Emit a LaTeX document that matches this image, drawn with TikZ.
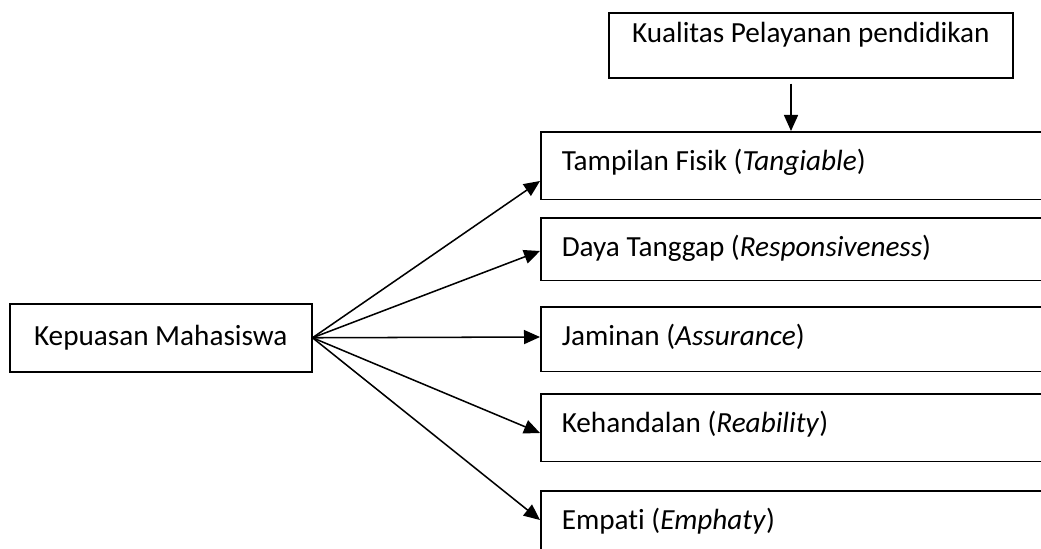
\documentclass[tikz,border=0pt]{standalone}
\usepackage{fontspec}
\setmainfont{Carlito}[Ligatures=NoCommon]
\usetikzlibrary{positioning,arrows.meta,calc}

\begin{document}
\begin{tikzpicture}[x=0.75pt,y=-0.75pt,line width=1.15pt,
  font=\fontsize{21.9pt}{26pt}\selectfont,
  dimbox/.style={draw,rectangle,anchor=north west,inner xsep=15.75pt,inner ysep=0pt,
    text width=360pt,align=flush left,text height=29pt},
  arr/.style={-{Triangle[length=12pt,width=10.5pt]}}]
\useasboundingbox (0,0) rectangle (1041,549);
% variabel bebas dan terikat
\node[draw,anchor=north west,minimum width=226.5pt,minimum height=51pt,inner sep=0pt] (kep) at (9,303) {Kepuasan Mahasiswa};
\node[draw,anchor=north west,minimum width=303pt,inner sep=0pt,text height=22.5pt,text depth=26.25pt] (kual) at (608,12) {Kualitas Pelayanan pendidikan};
% dimensi
\node[dimbox,text depth=21.75pt] (tang) at (540,131) {Tampilan Fisik (\textit{Tangiable})};
\node[dimbox,text depth=18pt] (resp) at (540,217) {Daya Tanggap (\textit{Responsiveness})};
\node[dimbox,text depth=19.5pt] (assu) at (540,306) {Jaminan (\textit{Assurance})};
\node[dimbox,text depth=21.75pt] (reab) at (540,393) {Kehandalan (\textit{Reability})};
\node[dimbox,text depth=40pt] (emph) at (540,490) {Empati (\textit{Emphaty})};
% panah
\draw[arr] ($(kual.south west)+(183,5)$) -- ($(tang.north west)+(251,0)$);
\draw[arr] (kep.east) -- ($(tang.north west)+(0,50)$);
\draw[arr] (kep.east) -- ($(resp.north west)+(0,34)$);
\draw[arr] (kep.east) -- ($(assu.north west)+(0,31)$);
\draw[arr] (kep.east) -- ($(reab.north west)+(0,40)$);
\draw[arr] (kep.east) -- ($(emph.north west)+(0,30)$);
\end{tikzpicture}
\end{document}
